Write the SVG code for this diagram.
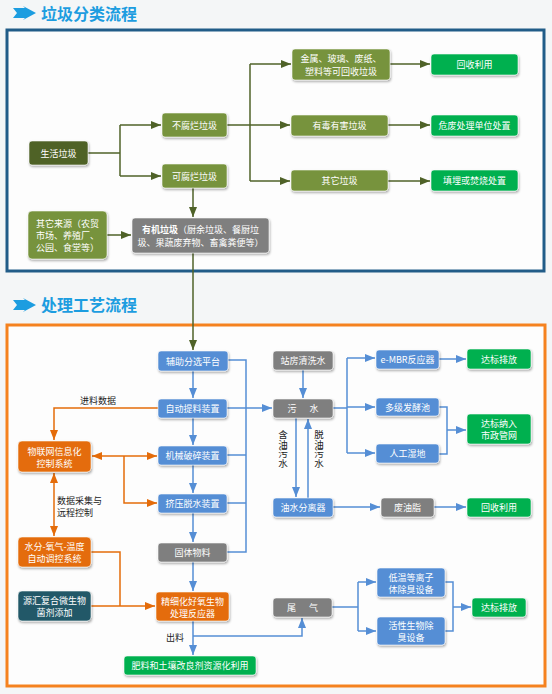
<svg xmlns="http://www.w3.org/2000/svg" width="552" height="694" viewBox="0 0 552 694">
<defs>
<style>
.n rect{stroke:#ffffff;stroke-opacity:0.7;stroke-width:0.8;filter:url(#sh)}
.t{font-family:"Noto Sans CJK SC","Liberation Sans",sans-serif;font-size:9px;fill:#ffffff;text-anchor:middle;dominant-baseline:central}
.t.s{text-anchor:start}
.lb{font-family:"Noto Sans CJK SC","Liberation Sans",sans-serif;font-size:9px;fill:#222222}
.vt{font-family:"Noto Sans CJK SC","Liberation Sans",sans-serif;font-size:9.5px;fill:#222222;writing-mode:vertical-rl;text-anchor:start}
.ttl{font-family:"Noto Sans CJK SC","Liberation Sans",sans-serif;font-size:16px;font-weight:bold;fill:#1c9de0}
.og{fill:#77933c}.dg{fill:#4f6228}.gy{fill:#7f7f7f}.gr{fill:#00b050}.bl{fill:#558ed5}.or{fill:#e46c0a}.tl{fill:#215967}
.cg path{fill:none;stroke:#4f6228;stroke-width:1.5}
.cb path{fill:none;stroke:#558ed5;stroke-width:1.5}
.co path{fill:none;stroke:#e46c0a;stroke-width:1.5}
</style>
<filter id="sh" x="-20%" y="-30%" width="140%" height="170%">
<feDropShadow dx="0.8" dy="1.5" stdDeviation="1" flood-color="#000" flood-opacity="0.35"/>
</filter>
<marker id="ag" markerUnits="userSpaceOnUse" markerWidth="10" markerHeight="10" viewBox="0 0 10 10" refX="10" refY="5" orient="auto-start-reverse"><path d="M0,1 L10,5 L0,9 Z" fill="#4f6228"/></marker>
<marker id="ab" markerUnits="userSpaceOnUse" markerWidth="10" markerHeight="10" viewBox="0 0 10 10" refX="10" refY="5" orient="auto-start-reverse"><path d="M0,1 L10,5 L0,9 Z" fill="#558ed5"/></marker>
<marker id="ao" markerUnits="userSpaceOnUse" markerWidth="10" markerHeight="10" viewBox="0 0 10 10" refX="10" refY="5" orient="auto-start-reverse"><path d="M0,1 L10,5 L0,9 Z" fill="#e46c0a"/></marker>
</defs>
<rect x="0" y="0" width="552" height="694" fill="#f4f6f7"/>
<!-- titles -->
<g id="title1">
<polygon points="13,8 25,8 23,6 36,13 23,20 25,18 13,18 17,13" fill="#1c9de0"/>
<text class="ttl" x="41" y="20">垃圾分类流程</text>
</g>
<g id="title2">
<polygon points="13,300 25,300 23,298 36,305 23,312 25,310 13,310 17,305" fill="#1c9de0"/>
<text class="ttl" x="41" y="311">处理工艺流程</text>
</g>
<rect x="7" y="30" width="537" height="241" fill="#fdfdfd" stroke="#215c88" stroke-width="3"/>
<rect x="7" y="325" width="538" height="361" fill="#fdfdfd" stroke="#f5821f" stroke-width="3"/>
<!-- connectors -->
<g id="connectors">
<g class="cg">
<path d="M88,153 H120"/>
<path d="M120,125 V176"/>
<path d="M120,125 H161" marker-end="url(#ag)"/>
<path d="M120,176 H161" marker-end="url(#ag)"/>
<path d="M227,125 H250"/>
<path d="M250,64 V181"/>
<path d="M250,64 H291" marker-end="url(#ag)"/>
<path d="M250,125 H290" marker-end="url(#ag)"/>
<path d="M250,181 H290" marker-end="url(#ag)"/>
<path d="M390,64 H430" marker-end="url(#ag)"/>
<path d="M388,125 H430" marker-end="url(#ag)"/>
<path d="M388,181 H430" marker-end="url(#ag)"/>
<path d="M193,188 V217" marker-end="url(#ag)"/>
<path d="M107,235 H131" marker-end="url(#ag)"/>
<path d="M193,253 V350" marker-end="url(#ag)"/>
</g>
<g class="cb">
<path d="M193,371 V398" marker-end="url(#ab)"/>
<path d="M193,418 V445" marker-end="url(#ab)"/>
<path d="M193,465 V493" marker-end="url(#ab)"/>
<path d="M193,513 V542" marker-end="url(#ab)"/>
<path d="M193,562 V591" marker-end="url(#ab)"/>
<path d="M227,360 H246 V552 H227"/>
<path d="M227,408 H246"/>
<path d="M227,455 H246"/>
<path d="M227,503 H246"/>
<path d="M246,408 H272" marker-end="url(#ab)"/>
<path d="M303,370 V398" marker-end="url(#ab)"/>
<path d="M333,408 H347"/>
<path d="M347,358 V453"/>
<path d="M347,358 H375" marker-end="url(#ab)"/>
<path d="M347,407 H375" marker-end="url(#ab)"/>
<path d="M347,453 H375" marker-end="url(#ab)"/>
<path d="M439,359 H466" marker-end="url(#ab)"/>
<path d="M439,407 H447 V454 H439"/>
<path d="M447,430 H466" marker-end="url(#ab)"/>
<path d="M296,418 V497" marker-end="url(#ab)"/>
<path d="M308,498 V419" marker-end="url(#ab)"/>
<path d="M333,507 H380" marker-end="url(#ab)"/>
<path d="M434,507 H466" marker-end="url(#ab)"/>
<path d="M193,621 V655" marker-end="url(#ab)"/>
<path d="M193,636 H302 V618" marker-end="url(#ab)"/>
<path d="M332,607 H358"/>
<path d="M358,582 V631"/>
<path d="M358,582 H376" marker-end="url(#ab)"/>
<path d="M358,631 H376" marker-end="url(#ab)"/>
<path d="M445,582 H453 V631 H445"/>
<path d="M453,607 H471" marker-end="url(#ab)"/>
</g>
<g class="co">
<path d="M158,408 H54 V440" marker-end="url(#ao)"/>
<path d="M92,456 H157" marker-start="url(#ao)" marker-end="url(#ao)"/>
<path d="M124,456 V503 H157" marker-end="url(#ao)"/>
<path d="M54,473 V536" marker-start="url(#ao)" marker-end="url(#ao)"/>
<path d="M91,552 H120 V606"/>
<path d="M91,606 H155" marker-end="url(#ao)"/>
</g>
<text class="lb" x="80" y="404">进料数据</text>
<text class="lb" x="57" y="504">数据采集与</text>
<text class="lb" x="57" y="516">远程控制</text>
<text class="lb" x="166" y="641">出料</text>
<text class="vt" x="283" y="430">含油污水</text>
<text class="vt" x="319" y="430">脱油污水</text>
</g>
<!-- section 1 nodes -->
<g id="shenghuo" class="n"><rect class="dg" x="29" y="141" width="59" height="24" rx="3"/><text class="t" x="58.5" y="153">生活垃圾</text></g>
<g id="bufulan" class="n"><rect class="og" x="162" y="113" width="65" height="24" rx="3"/><text class="t" x="194.5" y="125">不腐烂垃圾</text></g>
<g id="kefulan" class="n"><rect class="og" x="162" y="164" width="65" height="24" rx="3"/><text class="t" x="194.5" y="176">可腐烂垃圾</text></g>
<g id="qitalaiyuan" class="n"><rect class="og" x="28" y="211" width="79" height="48" rx="4"/><text class="t s" x="36" y="235"><tspan x="36" dy="-12">其它来源（农贸</tspan><tspan x="36" dy="12">市场、养殖厂、</tspan><tspan x="36" dy="12">公园、食堂等）</tspan></text></g>
<g id="youji" class="n"><rect class="gy" x="132" y="218" width="137" height="35" rx="3"/><text class="t" x="200.5" y="235"><tspan x="200.5" dy="-6.5"><tspan font-weight="bold">有机垃圾</tspan>（厨余垃圾、餐厨垃</tspan><tspan x="200.5" dy="13">圾、果蔬废弃物、畜禽粪便等）</tspan></text></g>
<g id="kehuishou" class="n"><rect class="og" x="292" y="49" width="98" height="31" rx="3"/><text class="t" x="341" y="64.5"><tspan x="341" dy="-6.5">金属、玻璃、废纸、</tspan><tspan x="341" dy="13">塑料等可回收垃圾</tspan></text></g>
<g id="youdu" class="n"><rect class="og" x="291" y="115" width="97" height="21" rx="3"/><text class="t" x="339.5" y="125.5">有毒有害垃圾</text></g>
<g id="qita" class="n"><rect class="og" x="291" y="170" width="97" height="21" rx="3"/><text class="t" x="339.5" y="180.5">其它垃圾</text></g>
<g id="huishou1" class="n"><rect class="gr" x="431" y="54" width="87" height="21" rx="3"/><text class="t" x="474.5" y="64.5">回收利用</text></g>
<g id="weifei" class="n"><rect class="gr" x="431" y="115" width="87" height="21" rx="3"/><text class="t" x="474.5" y="125.5">危废处理单位处置</text></g>
<g id="tianmai" class="n"><rect class="gr" x="431" y="170" width="87" height="21" rx="3"/><text class="t" x="474.5" y="180.5">填埋或焚烧处置</text></g>
<!-- section 2 nodes -->
<g id="fuzhu" class="n"><rect class="bl" x="158" y="351" width="70" height="20" rx="3"/><text class="t" x="193" y="361">辅助分选平台</text></g>
<g id="zidong" class="n"><rect class="bl" x="158" y="399" width="69" height="19" rx="3"/><text class="t" x="192.5" y="408.5">自动提料装置</text></g>
<g id="jixie" class="n"><rect class="bl" x="158" y="446" width="69" height="19" rx="3"/><text class="t" x="192.5" y="455.5">机械破碎装置</text></g>
<g id="jiya" class="n"><rect class="bl" x="158" y="494" width="69" height="19" rx="3"/><text class="t" x="192.5" y="503.5">挤压脱水装置</text></g>
<g id="guti" class="n"><rect class="gy" x="158" y="543" width="69" height="19" rx="3"/><text class="t" x="192.5" y="552.5">固体物料</text></g>
<g id="zhanfang" class="n"><rect class="gy" x="273" y="351" width="60" height="19" rx="3"/><text class="t" x="303" y="360.5">站房清洗水</text></g>
<g id="wushui" class="n"><rect class="gy" x="273" y="399" width="60" height="19" rx="3"/><text class="t" x="303" y="408.5" xml:space="preserve">污　  水</text></g>
<g id="emb" class="n"><rect class="bl" x="376" y="350" width="63" height="19" rx="3"/><text class="t" x="407.5" y="359.5">e-MBR反应器</text></g>
<g id="duoji" class="n"><rect class="bl" x="376" y="398" width="63" height="18" rx="3"/><text class="t" x="407.5" y="407">多级发酵池</text></g>
<g id="rengong" class="n"><rect class="bl" x="376" y="444" width="63" height="19" rx="3"/><text class="t" x="407.5" y="453.5">人工湿地</text></g>
<g id="dabiao1" class="n"><rect class="gr" x="467" y="349" width="64" height="20" rx="3"/><text class="t" x="499" y="359">达标排放</text></g>
<g id="shizheng" class="n"><rect class="gr" x="467" y="414" width="64" height="30" rx="3"/><text class="t" x="499" y="429"><tspan x="499" dy="-6">达标纳入</tspan><tspan x="499" dy="12">市政管网</tspan></text></g>
<g id="youshui" class="n"><rect class="bl" x="273" y="498" width="60" height="19" rx="3"/><text class="t" x="303" y="507.5">油水分离器</text></g>
<g id="feiyouzhi" class="n"><rect class="gy" x="381" y="498" width="53" height="19" rx="3"/><text class="t" x="407.5" y="507.5">废油脂</text></g>
<g id="huishou2" class="n"><rect class="gr" x="467" y="498" width="64" height="19" rx="3"/><text class="t" x="499" y="507.5">回收利用</text></g>
<g id="wulianwang" class="n"><rect class="or" x="18" y="441" width="73" height="31" rx="4"/><text class="t" x="54.5" y="456.5"><tspan x="54.5" dy="-6">物联网信息化</tspan><tspan x="54.5" dy="12">控制系统</tspan></text></g>
<g id="shuifen" class="n"><rect class="or" x="18" y="537" width="73" height="30" rx="4"/><text class="t" x="54.5" y="552"><tspan x="54.5" dy="-6">水分-氧气-温度</tspan><tspan x="54.5" dy="12">自动调控系统</tspan></text></g>
<g id="yuanhui" class="n"><rect class="tl" x="18" y="591" width="73" height="30" rx="4"/><text class="t" x="54.5" y="606"><tspan x="54.5" dy="-6">源汇复合微生物</tspan><tspan x="54.5" dy="12">菌剂添加</tspan></text></g>
<g id="jingxihua" class="n"><rect class="or" x="156" y="592" width="73" height="29" rx="3"/><text class="t" x="192.5" y="606.5"><tspan x="192.5" dy="-6">精细化好氧生物</tspan><tspan x="192.5" dy="12">处理反应器</tspan></text></g>
<g id="feiliao" class="n"><rect class="gr" x="124" y="656" width="132" height="19" rx="3"/><text class="t" x="190" y="665.5">肥料和土壤改良剂资源化利用</text></g>
<g id="weiqi" class="n"><rect class="gy" x="273" y="598" width="59" height="19" rx="3"/><text class="t" x="302.5" y="607.5" xml:space="preserve">尾　  气</text></g>
<g id="diwen" class="n"><rect class="bl" x="377" y="568" width="68" height="29" rx="3"/><text class="t" x="411" y="582.5"><tspan x="411" dy="-6">低温等离子</tspan><tspan x="411" dy="12">体除臭设备</tspan></text></g>
<g id="huoxing" class="n"><rect class="bl" x="377" y="617" width="68" height="28" rx="3"/><text class="t" x="411" y="631"><tspan x="411" dy="-6">活性生物除</tspan><tspan x="411" dy="12">臭设备</tspan></text></g>
<g id="dabiao2" class="n"><rect class="gr" x="472" y="598" width="54" height="19" rx="3"/><text class="t" x="499" y="607.5">达标排放</text></g>
</svg>
